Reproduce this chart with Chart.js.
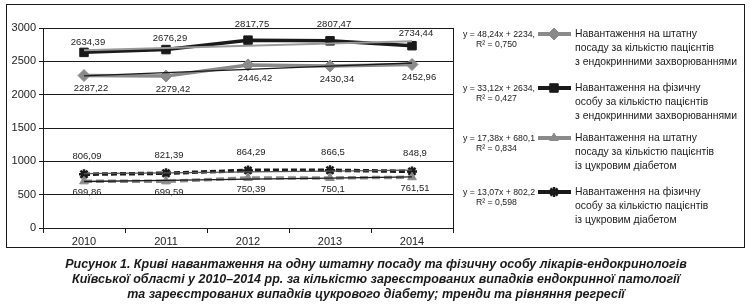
<!DOCTYPE html>
<html>
<head>
<meta charset="utf-8">
<script src="https://cdn.jsdelivr.net/npm/chart.js@4"></script>
<style>
  body { margin:0; background:#fff; width:752px; height:304px; position:relative; overflow:hidden; font-family:"Liberation Sans", Arial, sans-serif; color:#1a1a1a; }
  #frame { position:absolute; left:6px; top:4px; width:739px; height:244px; border:1px solid #1a1a1a; box-sizing:border-box; }
  #wrap { position:absolute; left:0; top:0; width:752px; height:304px; }
  .eq { position:absolute; left:463px; font-size:8.7px; line-height:10px; white-space:nowrap; }
  .eq span { display:block; padding-left:13px; }
  .desc { position:absolute; left:575px; font-size:10.4px; line-height:14px; white-space:nowrap; }
  #caption { position:absolute; left:0; width:752px; top:257px; text-align:center; font-family:"Liberation Sans", Arial, sans-serif; font-weight:bold; font-style:italic; font-size:13.5px; line-height:14.8px; transform:scaleX(0.925); transform-origin:376px 0; }
</style>
</head>
<body>
<div id="frame"></div>
<div id="wrap"><canvas id="chart" width="752" height="304"></canvas></div>

<div class="eq" style="top:29px">y = 48,24x + 2234,<span>R² = 0,750</span></div>
<div class="desc" style="top:27px">Навантаження на штатну<br>посаду за кількістю пацієнтів<br>з ендокринними захворюваннями</div>

<div class="eq" style="top:83px">y = 33,12x + 2634,<span>R² = 0,427</span></div>
<div class="desc" style="top:81px">Навантаження на фізичну<br>особу за кількістю пацієнтів<br>з ендокринними захворюваннями</div>

<div class="eq" style="top:133px">y = 17,38x + 680,1<span>R² = 0,834</span></div>
<div class="desc" style="top:131px">Навантаження на штатну<br>посаду за кількістю пацієнтів<br>із цукровим діабетом</div>

<div class="eq" style="top:187px">y = 13,07x + 802,2<span>R² = 0,598</span></div>
<div class="desc" style="top:185px">Навантаження на фізичну<br>особу за кількістю пацієнтів<br>із цукровим діабетом</div>

<div id="caption">Рисунок 1. Криві навантаження на одну штатну посаду та фізичну особу лікарів-ендокринологів<br>Київської області у 2010–2014 рр. за кількістю зареєстрованих випадків ендокринної патології<br>та зареєстрованих випадків цукрового діабету; тренди та рівняння регресії</div>

<script>
const years = ['2010', '2011', '2012', '2013', '2014'];
const postEndo = [2287.22, 2279.42, 2446.42, 2430.34, 2452.96];
const personEndo = [2634.39, 2676.29, 2817.75, 2807.47, 2734.44];
const postDiab = [699.86, 699.59, 750.39, 750.1, 761.51];
const personDiab = [806.09, 821.39, 864.29, 866.5, 848.9];
// trend equations as printed next to the legend
const trendSlope = [48.24, 33.12, 17.38, 13.07];
const trendIntercept = [2234, 2634, 680.1, 802.2];
const yTicks = [0, 500, 1000, 1500, 2000, 2500, 3000];

const GRAY = '#8a8a8a', BLACK = '#1a1a1a';

function trend(i) {
  return years.map((y, k) => trendSlope[i] * (k + 1) + trendIntercept[i]);
}

// label offsets are placement only (px), like the hand-moved labels in the original
const series = [
  {data: postEndo, color: GRAY, style: 'rectRot', r: 6, dash: [], trendColor: BLACK, trendW: 1.3, labelDx: 7, labelDy: [13, 13, 13, 13, 13]},
  {data: personEndo, color: BLACK, style: 'rect', r: 6, dash: [], trendColor: '#9a9a9a', trendW: 2, labelDx: 4, labelDy: [-10, -11, -16, -16, -12]},
  {data: postDiab, color: GRAY, style: 'triangle', r: 5, dash: [8, 4], trendColor: BLACK, trendW: 1.3, labelDx: 3, labelDy: [11, 11, 11, 11, 11]},
  {data: personDiab, color: BLACK, style: 'star', r: 5, dash: [6, 3], trendColor: '#555', trendW: 1.3, labelDx: 3, labelDy: [-18, -18, -18, -18, -18]}
];

const datasets = [];
series.forEach((s, i) => {
  datasets.push({
    data: s.data, borderColor: s.color, backgroundColor: s.color, borderWidth: 3.5,
    borderDash: s.dash, pointStyle: s.style, pointRadius: s.r, pointBorderWidth: s.style == 'star' ? 2.5 : 1,
    pointBorderColor: s.color, pointBackgroundColor: s.color, order: 2, labelDx: s.labelDx, labelDy: s.labelDy
  });
  datasets.push({
    data: trend(i), borderColor: s.trendColor, borderWidth: s.trendW, pointRadius: 0, order: 1, isTrend: true
  });
});

const extras = {
  id: 'extras',
  afterDatasetsDraw(chart) {
    const ctx = chart.ctx, a = chart.chartArea;
    ctx.save();
    // right border of plot area
    ctx.strokeStyle = BLACK; ctx.lineWidth = 1;
    ctx.beginPath(); ctx.moveTo(Math.round(a.right) + 0.5, a.top); ctx.lineTo(Math.round(a.right) + 0.5, a.bottom + 5); ctx.stroke();
    // data labels
    ctx.font = '9.5px "Liberation Sans", Arial, sans-serif';
    ctx.fillStyle = '#222'; ctx.textAlign = 'center'; ctx.textBaseline = 'middle';
    chart.data.datasets.forEach((ds, di) => {
      if (ds.isTrend) return;
      chart.getDatasetMeta(di).data.forEach((pt, k) => {
        ctx.fillText(String(ds.data[k]).replace('.', ','), pt.x + ds.labelDx, pt.y + ds.labelDy[k]);
      });
    });
    // legend keys
    const keyY = [34, 88, 138, 192];
    series.forEach((s, i) => {
      ctx.strokeStyle = s.color; ctx.lineWidth = 4; ctx.setLineDash([]);
      ctx.beginPath(); ctx.moveTo(538, keyY[i]); ctx.lineTo(571, keyY[i]); ctx.stroke();
      ctx.fillStyle = s.color; ctx.strokeStyle = s.color;
      ctx.lineWidth = s.style == 'star' ? 2.5 : 1;
      Chart.helpers.drawPoint(ctx, {pointStyle: s.style, radius: s.r, rotation: 0, borderWidth: ctx.lineWidth}, 554, keyY[i]);
    });
    ctx.restore();
  }
};

new Chart(document.getElementById('chart'), {
  type: 'line',
  data: {labels: years, datasets: datasets},
  plugins: [extras],
  options: {
    responsive: false,
    animation: false,
    layout: {padding: {left: 0, right: 299, top: 28, bottom: 56}},
    plugins: {legend: {display: false}, tooltip: {enabled: false}},
    scales: {
      x: {
        offset: true,
        grid: {offset: true, drawOnChartArea: false, color: BLACK, tickLength: 5},
        border: {color: BLACK, width: 1},
        ticks: {color: '#222', font: {size: 11, family: '"Liberation Sans", Arial'}, padding: 2},
        afterFit(scale) { scale.height = 20; }
      },
      y: {
        min: 0, max: 3000,
        afterBuildTicks(scale) { scale.ticks = yTicks.map(v => ({value: v})); },
        grid: {color: BLACK, lineWidth: 1, tickLength: 4},
        border: {color: BLACK, width: 1},
        ticks: {color: '#222', font: {size: 11, family: '"Liberation Sans", Arial'}, padding: 3, callback: v => String(v)},
        afterFit(scale) { scale.width = 43; }
      }
    }
  }
});
</script>
</body>
</html>
